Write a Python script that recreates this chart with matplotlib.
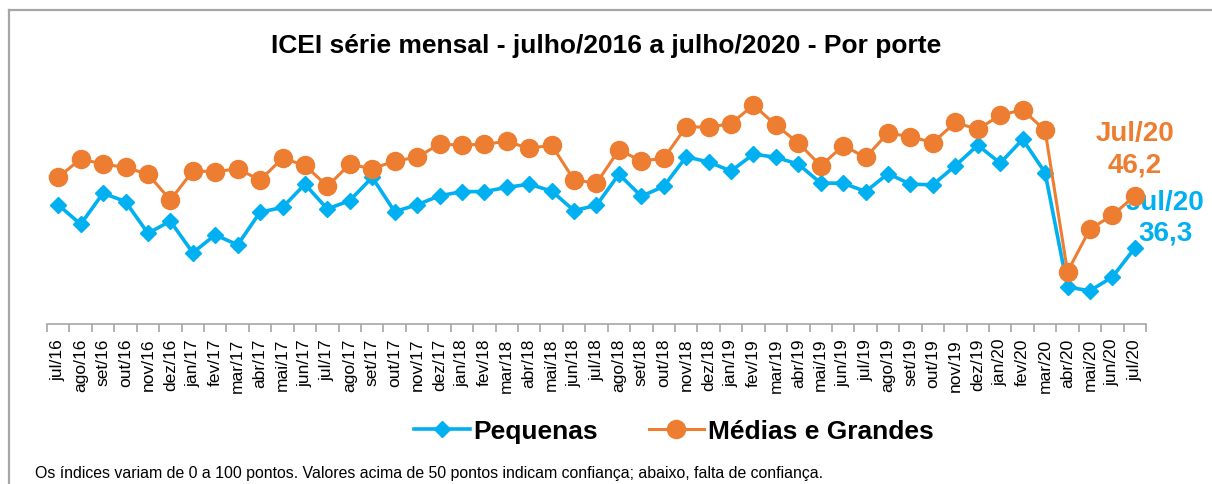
import matplotlib
matplotlib.use("Agg")
import matplotlib.pyplot as plt
from matplotlib.lines import Line2D

# meses de jul/16 a jul/20
meses = ["jul/16", "ago/16", "set/16", "out/16", "nov/16", "dez/16",
         "jan/17", "fev/17", "mar/17", "abr/17", "mai/17", "jun/17",
         "jul/17", "ago/17", "set/17", "out/17", "nov/17", "dez/17",
         "jan/18", "fev/18", "mar/18", "abr/18", "mai/18", "jun/18",
         "jul/18", "ago/18", "set/18", "out/18", "nov/18", "dez/18",
         "jan/19", "fev/19", "mar/19", "abr/19", "mai/19", "jun/19",
         "jul/19", "ago/19", "set/19", "out/19", "nov/19", "dez/19",
         "jan/20", "fev/20", "mar/20", "abr/20", "mai/20", "jun/20",
         "jul/20"]

# valores (aprox.)
pequenas = [44.5, 40.8, 46.7, 45.1, 39.1, 41.4,
            35.4, 38.8, 36.9, 43.1, 44.0, 48.4,
            43.7, 45.3, 49.7, 43.2, 44.5, 46.2,
            47.0, 47.0, 47.8, 48.4, 47.1, 43.4,
            44.4, 50.3, 46.1, 48.0, 53.6, 52.6,
            50.9, 54.1, 53.5, 52.2, 48.6, 48.6,
            47.0, 50.4, 48.4, 48.3, 51.9, 55.8,
            52.4, 56.9, 50.6, 28.9, 28.2, 30.8,
            36.3]

medias_grandes = [49.7, 53.2, 52.2, 51.6, 50.3, 45.4,
                  50.9, 50.8, 51.3, 49.2, 53.3, 52.0,
                  48.0, 52.2, 51.3, 52.8, 53.5, 56.0,
                  55.8, 56.0, 56.5, 55.2, 55.8, 49.2,
                  48.6, 54.9, 52.8, 53.3, 59.3, 59.2,
                  59.9, 63.4, 59.6, 56.2, 51.9, 55.7,
                  53.5, 58.1, 57.4, 56.3, 60.1, 58.8,
                  61.5, 62.5, 58.6, 31.8, 39.9, 42.5,
                  46.2]

azul = "#00B0F0"
laranja = "#ED7D31"
cinza = "#A6A6A6"

plt.rcParams["font.family"] = ["Liberation Sans", "DejaVu Sans"]

fig = plt.figure(figsize=(12.12, 4.85), dpi=100)
ax = fig.add_axes([47 / 1212, 1 - 325 / 485, (1146 - 47) / 1212, (325 - 95) / 485])

x = list(range(len(meses)))
ax.plot(x, pequenas, color=azul, lw=2.6, marker="D", ms=8, mec=azul, zorder=3)
ax.plot(x, medias_grandes, color=laranja, lw=2.2, marker="o", ms=13, mec=laranja, zorder=4)

ax.set_xlim(-0.5, len(meses) - 0.5)
ax.set_ylim(21.9, 65.5)

# eixo y escondido, eixo x estilo Excel (ticks entre categorias)
for s in ["top", "right", "left"]:
    ax.spines[s].set_visible(False)
ax.spines["bottom"].set_color(cinza)
ax.spines["bottom"].set_linewidth(1.2)
ax.set_yticks([])
ax.set_xticks([i - 0.5 for i in range(len(meses) + 1)])
ax.set_xticklabels([])
ax.set_xticks(x, minor=True)
ax.set_xticklabels(meses, minor=True, rotation=90, fontsize=12.5)
ax.tick_params(axis="x", which="major", length=6, width=1.2, color=cinza, direction="out")
ax.tick_params(axis="x", which="minor", length=0, pad=10)

# rotulos do ultimo ponto
ult = len(meses) - 1
ax.annotate("Jul/20\n46,2", xy=(ult, medias_grandes[-1]), xytext=(0, 34),
            textcoords="offset points", ha="center", va="center",
            color=laranja, fontsize=20, fontweight="bold", linespacing=1.3)
ax.annotate("Jul/20\n36,3", xy=(ult, pequenas[-1]), xytext=(22, 22),
            textcoords="offset points", ha="center", va="center",
            color=azul, fontsize=20, fontweight="bold", linespacing=1.25)

fig.text(0.5, 1 - 46 / 485, "ICEI série mensal - julho/2016 a julho/2020 - Por porte",
         ha="center", va="center", fontsize=19, fontweight="bold")

# legenda
handles = [Line2D([], [], color=azul, lw=2.6, marker="D", ms=8),
           Line2D([], [], color=laranja, lw=2.2, marker="o", ms=13)]
fig.legend(handles, ["Pequenas", "Médias e Grandes"], loc="center",
           bbox_to_anchor=(674 / 1212, 1 - 432 / 485), ncol=2, frameon=False,
           prop={"size": 19, "weight": "bold"}, handlelength=2.1,
           handletextpad=0.15, columnspacing=1.9)

fig.text(35 / 1212, 1 - 474 / 485,
         "Os índices variam de 0 a 100 pontos. Valores acima de 50 pontos indicam confiança; abaixo, falta de confiança.",
         ha="left", va="center", fontsize=11.4)

# moldura (apenas topo e esquerda visiveis)
fig.add_artist(Line2D([9 / 1212, 1], [1 - 11 / 485] * 2, color=cinza, lw=1.6))
fig.add_artist(Line2D([9 / 1212] * 2, [0, 1 - 11 / 485], color=cinza, lw=1.6))

fig.savefig("out.png", dpi=100)
